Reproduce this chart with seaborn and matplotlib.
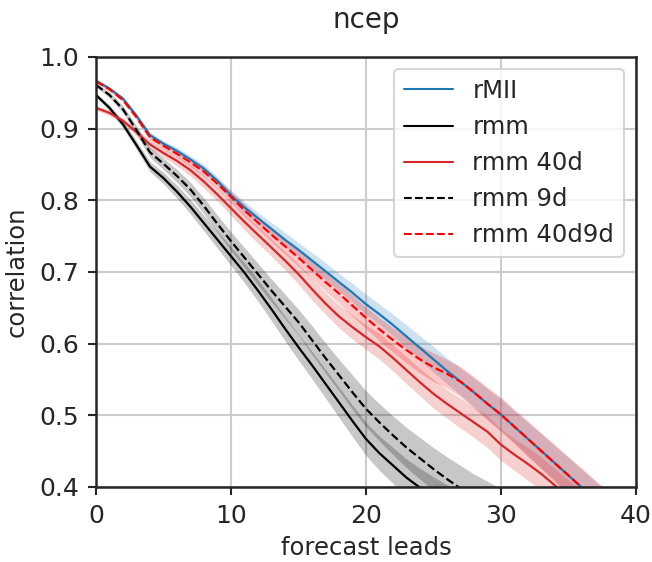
import numpy as np
import pandas as pd
import matplotlib
matplotlib.use("Agg")
import matplotlib.pyplot as plt
import seaborn as sns

leads = list(range(41))

rMII = [0.967, 0.956, 0.942, 0.918, 0.891, 0.879, 0.869, 0.857, 0.844, 0.827,
        0.807, 0.790, 0.775, 0.760, 0.745, 0.731, 0.716, 0.701, 0.686, 0.671,
        0.655, 0.641, 0.626, 0.610, 0.594, 0.578, 0.562, 0.547, 0.532, 0.516,
        0.501, 0.484, 0.467, 0.450, 0.433, 0.416, 0.399, 0.382, 0.365, 0.348, 0.331]
rmm = [0.947, 0.929, 0.906, 0.877, 0.847, 0.831, 0.812, 0.791, 0.768, 0.745,
       0.722, 0.699, 0.674, 0.648, 0.621, 0.595, 0.570, 0.544, 0.518, 0.492,
       0.467, 0.447, 0.430, 0.413, 0.399, 0.386, 0.374, 0.362, 0.351, 0.340,
       0.330, 0.320, 0.310, 0.300, 0.290, 0.280, 0.270, 0.260, 0.250, 0.240, 0.230]
rmm_40d = [0.929, 0.922, 0.911, 0.895, 0.878, 0.866, 0.855, 0.842, 0.826, 0.808,
           0.789, 0.770, 0.752, 0.734, 0.716, 0.697, 0.676, 0.656, 0.638, 0.623,
           0.609, 0.596, 0.580, 0.563, 0.546, 0.530, 0.516, 0.503, 0.490, 0.477,
           0.459, 0.445, 0.432, 0.418, 0.402, 0.386, 0.371, 0.356, 0.341, 0.326, 0.311]
rmm_9d = [0.961, 0.947, 0.927, 0.898, 0.867, 0.851, 0.834, 0.815, 0.792, 0.767,
          0.743, 0.720, 0.697, 0.674, 0.652, 0.630, 0.605, 0.580, 0.556, 0.532,
          0.509, 0.490, 0.472, 0.455, 0.440, 0.425, 0.411, 0.398, 0.386, 0.375,
          0.364, 0.353, 0.342, 0.331, 0.320, 0.309, 0.298, 0.287, 0.276, 0.265, 0.254]
rmm_40d9d = [0.966, 0.955, 0.940, 0.916, 0.888, 0.876, 0.865, 0.853, 0.840, 0.823,
             0.805, 0.786, 0.769, 0.752, 0.736, 0.720, 0.703, 0.686, 0.670, 0.653,
             0.636, 0.620, 0.605, 0.591, 0.578, 0.567, 0.558, 0.547, 0.532, 0.516,
             0.501, 0.484, 0.467, 0.450, 0.433, 0.416, 0.399, 0.382, 0.365, 0.348, 0.331]

# half-widths of the shaded confidence bands
hw_rMII = [0.002, 0.002, 0.003, 0.003, 0.004, 0.004, 0.005, 0.005, 0.006, 0.006,
           0.007, 0.008, 0.008, 0.009, 0.010, 0.010, 0.011, 0.012, 0.012, 0.013,
           0.014, 0.014, 0.015, 0.016, 0.017, 0.018, 0.018, 0.019, 0.020, 0.021,
           0.022, 0.022, 0.023, 0.024, 0.024, 0.025, 0.025, 0.026, 0.026, 0.027, 0.027]
hw_rmm = [0.003, 0.004, 0.005, 0.006, 0.007, 0.008, 0.009, 0.010, 0.011, 0.012,
          0.013, 0.014, 0.015, 0.016, 0.017, 0.018, 0.019, 0.020, 0.021, 0.022,
          0.023, 0.024, 0.025, 0.026, 0.027, 0.028, 0.029, 0.030, 0.030, 0.031,
          0.031, 0.032, 0.032, 0.033, 0.033, 0.034, 0.034, 0.035, 0.035, 0.036, 0.036]
hw_rmm_40d = [0.003, 0.004, 0.004, 0.005, 0.006, 0.006, 0.007, 0.008, 0.009, 0.009,
              0.010, 0.011, 0.012, 0.012, 0.013, 0.014, 0.015, 0.015, 0.016, 0.017,
              0.017, 0.018, 0.018, 0.019, 0.019, 0.020, 0.020, 0.021, 0.021, 0.022,
              0.022, 0.022, 0.023, 0.023, 0.023, 0.024, 0.024, 0.024, 0.025, 0.025, 0.025]
hw_rmm_9d = [0.003, 0.004, 0.005, 0.006, 0.007, 0.008, 0.009, 0.010, 0.011, 0.012,
             0.013, 0.014, 0.015, 0.016, 0.017, 0.018, 0.020, 0.021, 0.022, 0.024,
             0.025, 0.026, 0.027, 0.028, 0.029, 0.030, 0.031, 0.032, 0.032, 0.033,
             0.033, 0.034, 0.034, 0.035, 0.035, 0.036, 0.036, 0.037, 0.037, 0.038, 0.038]
hw_rmm_40d9d = [0.002, 0.003, 0.003, 0.004, 0.004, 0.005, 0.005, 0.006, 0.007, 0.007,
                0.008, 0.009, 0.009, 0.010, 0.011, 0.012, 0.012, 0.013, 0.014, 0.015,
                0.015, 0.016, 0.017, 0.018, 0.019, 0.020, 0.020, 0.021, 0.022, 0.023,
                0.024, 0.024, 0.025, 0.025, 0.026, 0.026, 0.027, 0.027, 0.028, 0.028, 0.028]

series_names = ["rMII", "rmm", "rmm 40d", "rmm 9d", "rmm 40d9d"]
series_vals = [rMII, rmm, rmm_40d, rmm_9d, rmm_40d9d]
series_hw = [hw_rMII, hw_rmm, hw_rmm_40d, hw_rmm_9d, hw_rmm_40d9d]
series_colors = ["#1f77b4", "#000000", "#d62728", "#000000", "#ff0000"]
series_styles = ["-", "-", "-", "--", "--"]

xticks = [0, 10, 20, 30, 40]
yticks = [0.4, 0.5, 0.6, 0.7, 0.8, 0.9, 1.0]

sns.set_theme(context="talk", style="ticks")
plt.rcParams["font.family"] = ["DejaVu Sans"]

fig = plt.figure(figsize=(6.52, 5.62), dpi=100)
ax = fig.add_axes([0.1472, 0.1335, 0.8283, 0.7651])

for name, vals, hw, col, ls in zip(series_names, series_vals, series_hw,
                                   series_colors, series_styles):
    df = pd.DataFrame({"lead": leads, "corr": vals})
    lo = np.array(vals) - np.array(hw)
    hi = np.array(vals) + np.array(hw)
    ax.fill_between(leads, lo, hi, color=col, alpha=0.22, linewidth=0)
    sns.lineplot(data=df, x="lead", y="corr", ax=ax, color=col,
                 linestyle=ls, linewidth=1.6, label=name)

ax.set_xlim(0, 40)
ax.set_ylim(0.4, 1.0)
ax.set_xticks(xticks)
ax.set_yticks(yticks)
ax.set_yticklabels([f"{v:.1f}" for v in yticks])
ax.grid(True, color="#cccccc", linewidth=1.5)
ax.set_axisbelow(True)
ax.tick_params(length=6, width=1.5, labelsize=18, pad=6)
for s in ax.spines.values():
    s.set_linewidth(1.8)
    s.set_color("#262626")

ax.set_xlabel("forecast leads", fontsize=17.5, labelpad=6)
ax.set_ylabel("correlation", fontsize=17.5, labelpad=8)
ax.set_title("ncep", fontsize=20, pad=21)
leg = ax.legend(loc="upper right", fontsize=17.5, framealpha=0.8)
for line in leg.get_lines():
    line.set_linewidth(1.5)

fig.savefig("out.png", dpi=100)
